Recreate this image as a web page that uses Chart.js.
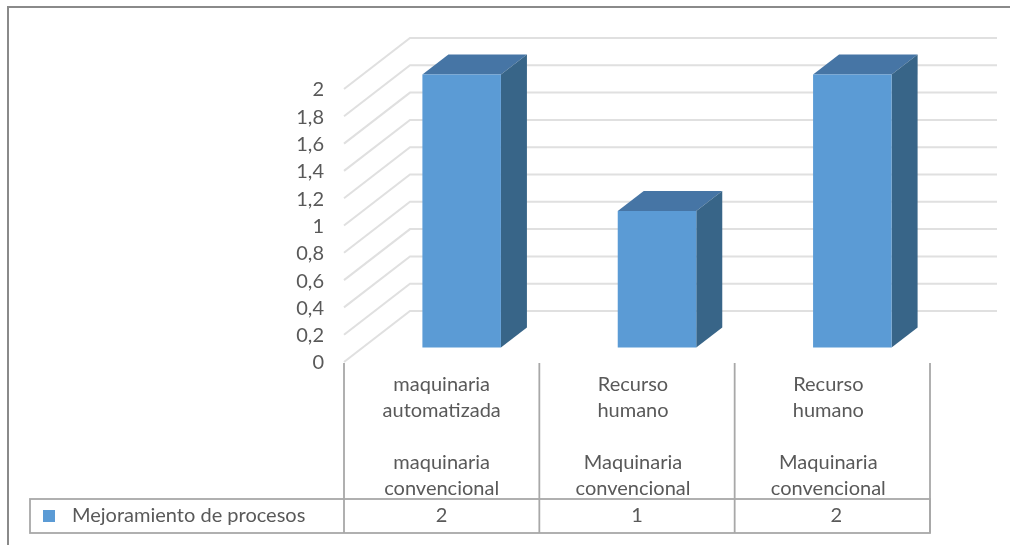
<!DOCTYPE html>
<html>
<head>
<meta charset="utf-8">
<style>html,body{margin:0;padding:0;background:#fff}canvas{display:block;filter:blur(0.35px)}</style>
<script src="https://cdn.jsdelivr.net/npm/chart.js@4"></script>
</head>
<body>
<canvas id="c" width="1010" height="545"></canvas>
<script>
const categories = [
  ["maquinaria","automatizada","","maquinaria","convencional"],
  ["Recurso","humano","","Maquinaria","convencional"],
  ["Recurso","humano","","Maquinaria","convencional"]
];
const seriesName = "Mejoramiento de procesos";
const seriesValues = [2, 1, 2];

const FONT = "Lato, Carlito, sans-serif";
const TEXT = "#595959";
const GRID = "#e0e0e0";
const TABLE = "#a8a8a8";
const FRONT = "#5b9bd5", TOP = "#4675a5", SIDE = "#386588";
const WALL_DX = 66, WALL_DY = 51, WALL_RIGHT = 997;
const BAR_SHIFT_X = 20, BAR_SHIFT_Y = 14.5, BAR_DX = 26, BAR_DY = 20;
const TABLE_LEFT = 30, TABLE_TOP = 499, TABLE_BOTTOM = 533;
const LABEL_NUDGE = [0, -4, -4];
const VALUE_NUDGE = [0, 0, 4];
const Y_LABEL_NUDGE = 1;

const scene = {
  id: "scene",
  beforeDraw(chart) {
    const ctx = chart.ctx;
    ctx.save();
    ctx.fillStyle = "#fff";
    ctx.fillRect(0, 0, chart.width, chart.height);
    ctx.strokeStyle = "#8a8a8a";
    ctx.lineWidth = 2;
    ctx.beginPath();
    ctx.moveTo(8, 545); ctx.lineTo(8, 7); ctx.lineTo(1010, 7);
    ctx.stroke();
    ctx.restore();
    chart.scales.x.getLabelItems().forEach((item, i) => {
      item.options.translation = [item.options.translation[0] + LABEL_NUDGE[i], item.options.translation[1]];
    });
    chart.scales.y.getLabelItems().forEach((item) => {
      item.options.translation = [item.options.translation[0], item.options.translation[1] + Y_LABEL_NUDGE];
    });
  },
  beforeDatasetsDraw(chart) {
    const ctx = chart.ctx, y = chart.scales.y, a = chart.chartArea;
    ctx.save();
    ctx.strokeStyle = GRID;
    ctx.lineWidth = 2;
    y.ticks.forEach((t) => {
      const py = y.getPixelForValue(t.value);
      ctx.beginPath();
      ctx.moveTo(a.left, py);
      ctx.lineTo(a.left + WALL_DX, py - WALL_DY);
      ctx.lineTo(WALL_RIGHT, py - WALL_DY);
      ctx.stroke();
    });
    ctx.restore();
  },
  beforeDatasetDraw(chart, args) {
    const ctx = chart.ctx;
    ctx.save();
    ctx.translate(BAR_SHIFT_X, -BAR_SHIFT_Y);
    args.meta.data.forEach((b) => {
      const l = b.x - b.width / 2, r = b.x + b.width / 2;
      ctx.fillStyle = TOP;
      ctx.beginPath();
      ctx.moveTo(l, b.y); ctx.lineTo(l + BAR_DX, b.y - BAR_DY);
      ctx.lineTo(r + BAR_DX, b.y - BAR_DY); ctx.lineTo(r, b.y);
      ctx.closePath(); ctx.fill();
      ctx.fillStyle = SIDE;
      ctx.beginPath();
      ctx.moveTo(r, b.y); ctx.lineTo(r + BAR_DX, b.y - BAR_DY);
      ctx.lineTo(r + BAR_DX, b.base - BAR_DY); ctx.lineTo(r, b.base);
      ctx.closePath(); ctx.fill();
    });
  },
  afterDatasetDraw(chart) {
    chart.ctx.restore();
  },
  afterDraw(chart) {
    const ctx = chart.ctx, x = chart.scales.x, a = chart.chartArea;
    const cell = (x.getPixelForValue(1) - x.getPixelForValue(0));
    const edges = seriesValues.map((_, i) => x.getPixelForValue(i) - cell / 2);
    edges.push(a.right);
    ctx.save();
    ctx.strokeStyle = TABLE;
    ctx.lineWidth = 1.8;
    edges.forEach((e) => {
      ctx.beginPath(); ctx.moveTo(e, a.bottom + 1); ctx.lineTo(e, TABLE_BOTTOM); ctx.stroke();
    });
    ctx.strokeRect(TABLE_LEFT, TABLE_TOP, a.right - TABLE_LEFT, TABLE_BOTTOM - TABLE_TOP);
    ctx.fillStyle = FRONT;
    ctx.fillRect(43, 510, 12, 12);
    ctx.fillStyle = TEXT;
    ctx.font = "20px " + FONT;
    ctx.textBaseline = "middle";
    ctx.textAlign = "left";
    ctx.fillText(seriesName, 72, 516);
    ctx.textAlign = "center";
    seriesValues.forEach((v, i) => ctx.fillText(String(v), x.getPixelForValue(i) + VALUE_NUDGE[i], 516));
    ctx.restore();
  }
};

new Chart(document.getElementById("c"), {
  type: "bar",
  data: {
    labels: categories,
    datasets: [{
      label: seriesName,
      data: seriesValues,
      backgroundColor: FRONT,
      barPercentage: 1,
      categoryPercentage: 0.402,
      clip: false
    }]
  },
  plugins: [scene],
  options: {
    responsive: false,
    animation: false,
    layout: { padding: { top: 89, right: 80, left: 0, bottom: 0 } },
    plugins: { legend: { display: false }, tooltip: { enabled: false } },
    scales: {
      x: {
        grid: { display: false },
        border: { display: false },
        afterFit(s) { s.height = 183; },
        ticks: {
          autoSkip: false, maxRotation: 0, minRotation: 0, padding: 2,
          color: TEXT,
          font: { family: FONT, size: 20, lineHeight: "26px" }
        }
      },
      y: {
        min: 0, max: 2,
        grid: { display: false },
        border: { display: false },
        afterFit(s) { s.width = 344; },
        ticks: {
          stepSize: 0.2, padding: 12,
          color: TEXT,
          font: { family: FONT, size: 20 },
          callback: (v) => String(Number(v.toFixed(1))).replace(".", ",")
        }
      }
    }
  }
});
</script>
</body>
</html>
